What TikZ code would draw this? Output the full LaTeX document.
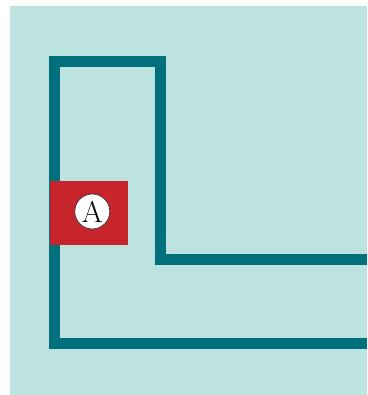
\documentclass[tikz,border=0pt]{standalone}
\definecolor{bgteal}{HTML}{BCE3E0}
\definecolor{darkteal}{HTML}{00717C}
\definecolor{flagred}{HTML}{C8242B}
\begin{document}
\begin{tikzpicture}[x=1pt,y=1pt,
  wall/.style={draw=darkteal,line width=11pt,line join=miter},
  marker/.style={circle,draw=black!80,line width=0.7pt,fill=white,minimum size=35pt,inner sep=0pt,font=\fontsize{30}{30}\selectfont}]
\useasboundingbox (0,0) rectangle (367,395);
\fill[bgteal] (10,0) rectangle (367,389);
\draw[wall] (367,135.5) -- (160.5,135.5) -- (160.5,333) -- (54.5,333) -- (54.5,51.2) -- (367,51.2);
\fill[flagred] (50,150) rectangle (127.7,214);
\node[marker] (a) at (92.3,183.5) {A};
\end{tikzpicture}
\end{document}
